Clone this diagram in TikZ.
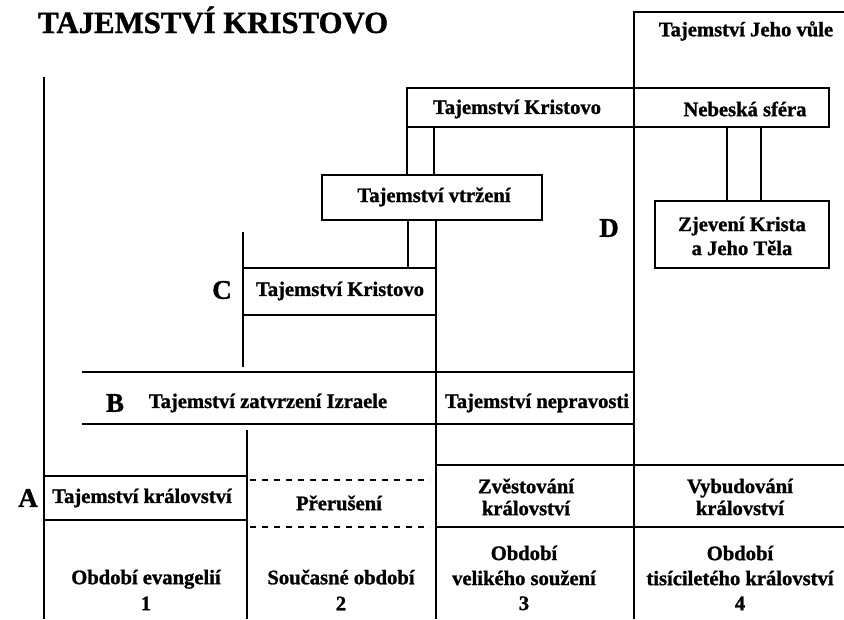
\documentclass[tikz,border=0pt]{standalone}
\usepackage{fontspec}
\setmainfont{Liberation Serif}[BoldFeatures={FakeBold=1.2}]
\begin{document}
\begin{tikzpicture}[x=1pt,y=-1pt,
  ln/.style={line width=1.8pt},
  dsh/.style={line width=1.6pt, dash pattern=on 6pt off 6pt},
  lbl/.style={font=\fontsize{20.6}{24}\selectfont\bfseries, inner sep=0pt, align=center},
  big/.style={font=\fontsize{27}{30}\selectfont\bfseries, inner sep=0pt}]
\useasboundingbox (0,0) rectangle (844,619);

% title
\node[font=\fontsize{30.8}{34}\selectfont\bfseries, anchor=base west, inner sep=0pt] (title) at (38,33) {TAJEMSTVÍ KRISTOVO};

% main verticals
\draw[ln] (44,77) -- (44,619);
\draw[ln] (634,619) -- (634,12) -- (844,12);
\draw[ln] (436,220) -- (436,619);
\draw[ln] (247,430) -- (247,619);

% upper boxes
\draw[ln] (407,88) rectangle (634,127);
\draw[ln] (634,88) rectangle (829,127);
\draw[ln] (407,127) -- (407,175);
\draw[ln] (434,127) -- (434,175);
\draw[ln] (322,175) rectangle (542,220);
\draw[ln] (408,220) -- (408,268);

% Zjeveni
\draw[ln] (727,127) -- (727,201);
\draw[ln] (761,127) -- (761,201);
\draw[ln] (655,201) rectangle (829,268);

% C
\draw[ln] (243,232) -- (243,367);
\draw[ln] (243,268) -- (436,268);
\draw[ln] (243,315) -- (436,315);

% B
\draw[ln] (82,372) -- (634,372);
\draw[ln] (82,424) -- (634,424);

% A row
\draw[ln] (44,476) -- (247,476);
\draw[ln] (44,520) -- (247,520);
\draw[dsh] (250,480) -- (430,480);
\draw[dsh] (250,527) -- (430,527);
\draw[ln] (436,465) -- (844,465);
\draw[ln] (436,527) -- (844,527);

% texts
\node[lbl] (vule) at (746,31) {Tajemství Jeho vůle};
\node[lbl] (kr1) at (517,109) {Tajemství Kristovo};
\node[lbl] (neb) at (745,109) {Nebeská sféra};
\node[lbl] (vtr) at (434,197) {Tajemství vtržení};
\node[big] (D) at (609,228) {D};
\node[lbl] (zjev) at (742,236) {Zjevení Krista\\a Jeho Těla};
\node[big] (C) at (222,290) {C};
\node[lbl] (kr2) at (340,291) {Tajemství Kristovo};
\node[big] (B) at (115,403) {B};
\node[lbl] (izr) at (268,403) {Tajemství zatvrzení Izraele};
\node[lbl] (nep) at (537,403) {Tajemství nepravosti};
\node[big] (A) at (28,498) {A};
\node[lbl] (kral) at (142,498) {Tajemství království};
\node[lbl] (prer) at (339,503) {Přerušení};
\node[lbl, font=\fontsize{20.6}{22}\selectfont\bfseries] (zvest) at (526,497) {Zvěstování\\království};
\node[lbl, font=\fontsize{20.6}{22}\selectfont\bfseries] (vybud) at (740,497) {Vybudování\\království};
\node[lbl, font=\fontsize{20.6}{26}\selectfont\bfseries] (p1) at (146,590) {Období evangelií\\1};
\node[lbl, font=\fontsize{20.6}{26}\selectfont\bfseries] (p2) at (341,590) {Současné období\\2};
\node[lbl, font=\fontsize{20.6}{25}\selectfont\bfseries] (p3) at (524,578) {Období\\velikého soužení\\3};
\node[lbl, font=\fontsize{20.6}{25}\selectfont\bfseries] (p4) at (740,578) {Období\\tisíciletého království\\4};
\end{tikzpicture}
\end{document}
